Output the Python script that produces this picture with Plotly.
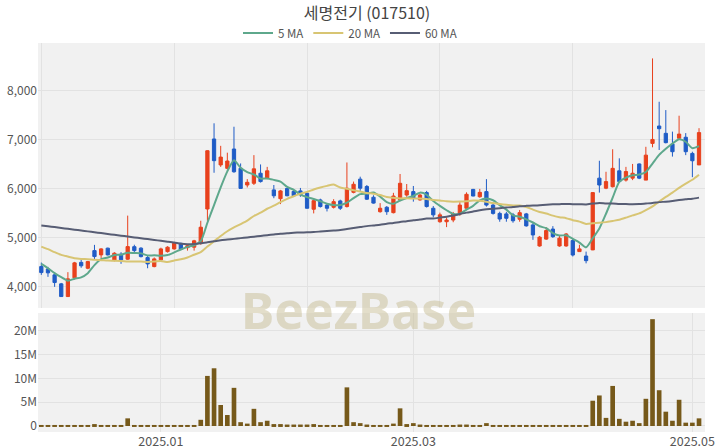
import plotly.graph_objects as go
import pandas as pd

# ---- data (trading-day index 0..99) ----
open_ = [4414, 4367, 4245, 4061, 3802, 4184, 4500, 4380, 4740, 4653,
         4790, 4537, 4667, 4565, 4820, 4790, 4598, 4414, 4551, 4720,
         4775, 4890, 4800, 4810, 4900, 5590, 7020, 6490, 6420, 6815,
         6420, 6080, 6115, 6320, 6220, 5980, 5800, 6010, 5950, 5960,
         5910, 5585, 5775, 5670, 5625, 5755, 5640, 5930, 6200, 6050,
         5830, 5535, 5625, 5515, 5775, 5875, 5945, 5775, 5925, 5605,
         5330, 5330, 5365, 5490, 5605, 5990, 5840, 5945, 5670, 5500,
         5490, 5470, 5380, 5490, 5265, 4835, 4975, 5180, 4835, 4835,
         4945, 4720, 4630, 4755, 6220, 6015, 6045, 6370, 6180, 6220,
         6510, 6180, 6930, 7285, 7135, 6915, 7035, 7055, 6725, 6490]
high = [4496, 4408, 4286, 4080, 4300, 4510, 4550, 4530, 4857, 4790,
        4800, 4708, 4708, 5455, 4860, 4810, 4640, 4600, 4800, 4830,
        4900, 4900, 4870, 4960, 5350, 6790, 7340, 6880, 6740, 7270,
        6520, 6200, 6690, 6500, 6450, 6080, 5980, 6020, 5980, 6020,
        5930, 5800, 5800, 5710, 5790, 5780, 6540, 6150, 6250, 6080,
        5870, 5710, 5650, 5920, 6305, 6100, 6060, 5900, 5960, 5650,
        5515, 5420, 5530, 5730, 5930, 6000, 6000, 6200, 5710, 5535,
        5530, 5510, 5570, 5510, 5300, 5040, 5220, 5240, 5040, 5100,
        4980, 4860, 4720, 5930, 6575, 6350, 6810, 6625, 6450, 6510,
        6520, 6860, 8665, 7780, 7610, 7170, 7495, 7140, 6760, 7240]
low = [4245, 4204, 4000, 3800, 3800, 4150, 4390, 4360, 4565, 4590,
       4640, 4520, 4470, 4550, 4710, 4600, 4380, 4400, 4530, 4700,
       4760, 4760, 4740, 4740, 4860, 5350, 6330, 6450, 6400, 6330,
       6000, 6030, 6080, 6130, 6200, 5810, 5690, 5850, 5840, 5840,
       5600, 5500, 5620, 5540, 5600, 5570, 5620, 5910, 5960, 5775,
       5700, 5515, 5470, 5500, 5750, 5840, 5740, 5760, 5620, 5420,
       5310, 5220, 5320, 5450, 5600, 5850, 5820, 5640, 5475, 5330,
       5330, 5310, 5330, 5230, 4960, 4820, 4960, 5000, 4820, 4820,
       4620, 4720, 4480, 4750, 5925, 5995, 6030, 6150, 6150, 6180,
       6200, 6180, 6850, 6795, 6930, 6660, 7035, 6690, 6240, 6490]
close = [4292, 4286, 4088, 3802, 4163, 4490, 4430, 4516, 4618, 4775,
         4653, 4687, 4551, 4822, 4740, 4618, 4469, 4571, 4775, 4810,
         4890, 4770, 4840, 4940, 5218, 6780, 6577, 6650, 6570, 6350,
         6010, 6135, 6410, 6150, 6370, 5860, 5960, 5860, 5860, 5880,
         5605, 5760, 5640, 5605, 5740, 5605, 6015, 6095, 6015, 5790,
         5710, 5605, 5535, 5855, 6115, 5965, 5810, 5875, 5640, 5470,
         5470, 5365, 5490, 5670, 5890, 5855, 5930, 5670, 5500, 5385,
         5400, 5350, 5515, 5245, 5060, 5015, 5150, 5025, 4995, 5080,
         4650, 4775, 4535, 5925, 6080, 6150, 6420, 6150, 6355, 6320,
         6220, 6690, 7010, 7230, 6945, 6760, 7120, 6760, 6575, 7150]
volume_m = [0.1, 0.1, 0.2, 0.2, 0.2, 0.1, 0.05, 0.05, 0.4, 0.15,
            0.15, 0.05, 0.05, 1.6, 0.2, 0.08, 0.08, 0.08, 0.08, 0.05,
            0.05, 0.05, 0.05, 0.1, 1.3, 10.5, 12.1, 4.4, 2.3, 8.0,
            0.8, 0.5, 3.6, 0.8, 1.1, 0.4, 0.4, 0.3, 0.3, 0.3,
            0.3, 0.4, 0.15, 0.15, 0.15, 0.15, 8.1, 0.8, 0.6, 0.3,
            0.2, 0.2, 0.2, 0.5, 3.7, 0.4, 0.6, 0.3, 0.2, 0.15,
            0.1, 0.1, 0.1, 0.3, 0.3, 0.2, 0.1, 0.6, 0.1, 0.1,
            0.05, 0.05, 0.05, 0.05, 0.05, 0.05, 0.05, 0.05, 0.05, 0.05,
            0.1, 0.05, 0.05, 5.3, 6.4, 1.7, 8.4, 1.5, 0.9, 1.1,
            0.6, 5.7, 22.4, 7.5, 3.0, 1.1, 5.5, 0.7, 0.7, 1.6]

# moving-average values before enough history is visible
ma5_head = [4469, 4381, 4279, 4197]
ma20_head = [4822, 4769, 4708, 4653, 4618, 4585, 4571, 4565, 4551, 4545,
             4537, 4535, 4530, 4520, 4517, 4516, 4510, 4516, 4530]
ma60_head = [5255, 5238, 5220, 5203, 5185, 5168, 5150, 5133, 5115, 5098,
             5080, 5063, 5045, 5028, 5010, 4993, 4975, 4958, 4940, 4923,
             4905, 4880, 4870, 4875, 4890, 4910, 4930, 4950, 4965, 4980,
             4995, 5010, 5025, 5040, 5055, 5070, 5085, 5095, 5105, 5110,
             5115, 5120, 5130, 5140, 5150, 5160, 5180, 5200, 5220, 5240,
             5255, 5270, 5290, 5305, 5325, 5340, 5360, 5375, 5395]

tick_labels = ["2025.01", "2025.03", "2025.05"]
tick_index = [18, 56, 98]

title_text = "세명전기 (017510)"

# ---- derived ----
idx = list(range(len(close)))
cs = pd.Series(close, dtype=float)


def moving_avg(n, head):
    r = cs.rolling(n).mean().tolist()
    return head + r[len(head):]


ma5 = moving_avg(5, ma5_head)
ma20 = moving_avg(20, ma20_head)
ma60 = moving_avg(60, ma60_head)
volume = [v * 1e6 for v in volume_m]

RED = "#e8411d"
BLUE = "#1f5cc6"
GRID = "#e2e2e2"
BG = "#f1f1f1"
TXT = "#555555"
FONT = "Noto Sans CJK KR, Noto Sans, sans-serif"

fig = go.Figure()

fig.add_trace(go.Candlestick(
    x=idx, open=open_, high=high, low=low, close=close,
    increasing=dict(line=dict(color=RED, width=1), fillcolor=RED),
    decreasing=dict(line=dict(color=BLUE, width=1), fillcolor=BLUE),
    showlegend=False, xaxis="x", yaxis="y", hoverinfo="skip",
))

for name, vals, col in [("5 MA", ma5, "#5ea88c"),
                        ("20 MA", ma20, "#d8c573"),
                        ("60 MA", ma60, "#575d74")]:
    fig.add_trace(go.Scatter(
        x=idx, y=vals, mode="lines", name=name,
        line=dict(color=col, width=2, shape="spline", smoothing=0.6),
        xaxis="x", yaxis="y",
    ))

fig.add_trace(go.Bar(
    x=idx, y=volume, marker=dict(color="#76591a", line=dict(width=0)),
    showlegend=False, xaxis="x2", yaxis="y2", width=0.7,
))

fig.update_layout(
    width=720, height=448,
    margin=dict(l=38, r=15, t=43, b=16, autoexpand=False),
    paper_bgcolor="white", plot_bgcolor=BG,
    font=dict(family=FONT, size=12, color=TXT),
    title=dict(text=title_text, x=(367 / 720), xanchor="center",
               y=1 - 13 / 448, yanchor="middle", yref="container",
               font=dict(size=16, color="#444444")),
    legend=dict(orientation="h", x=(350 - 38) / 667, xanchor="center",
                y=1 - 33 / 448, yanchor="middle", yref="container",
                font=dict(size=11.5, color="#555555"),
                bgcolor="rgba(0,0,0,0)", itemwidth=30),
    showlegend=True,
    bargap=0.3,
    xaxis=dict(domain=[0, 1], range=[-0.5, 99.9], tick0=0, dtick=20,
               showticklabels=False, showgrid=True, gridcolor=GRID,
               zeroline=False, rangeslider=dict(visible=False),
               anchor="y", automargin=False),
    yaxis=dict(domain=[0.319, 1], range=[3570, 8980],
               tickvals=[4000, 5000, 6000, 7000, 8000],
               tickformat=",", showgrid=True, gridcolor=GRID, zeroline=False,
               ticks="", anchor="x", automargin=False,
               tickfont=dict(size=12, color=TXT)),
    xaxis2=dict(domain=[0, 1], range=[-0.5, 99.9], tickvals=tick_index,
                ticktext=tick_labels, showgrid=True, gridcolor=GRID,
                zeroline=False, anchor="y2", automargin=False,
                tickfont=dict(size=12.5, color=TXT)),
    yaxis2=dict(domain=[0, 0.306], range=[-1.26e6, 23.7e6],
                tickvals=[0, 5e6, 10e6, 15e6, 20e6],
                ticktext=["0", "5M", "10M", "15M", "20M"],
                showgrid=True, gridcolor=GRID, zeroline=False, anchor="x2",
                automargin=False, tickfont=dict(size=12, color=TXT)),
    annotations=[dict(text="BeezBase", xref="paper", yref="paper",
                      x=(358 - 38) / 667, y=0.314, xanchor="center",
                      yanchor="middle", showarrow=False,
                      font=dict(family="Noto Sans, sans-serif", size=50,
                                color="rgba(200,190,150,0.5)", weight="bold"))],
)

fig.write_html("out.html", config={"displayModeBar": False},
               post_script="document.body.style.margin='0';document.body.style.overflow='hidden';")
